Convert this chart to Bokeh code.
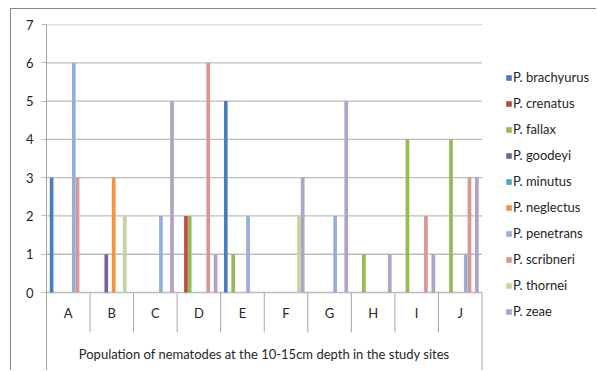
from bokeh.plotting import figure
from bokeh.models import ColumnDataSource, FixedTicker, Legend, LegendItem, Range1d
from bokeh.transform import dodge
from bokeh.core.properties import value
from bokeh.embed import file_html
from bokeh.resources import INLINE

categories = ["A", "B", "C", "D", "E", "F", "G", "H", "I", "J"]
series_names = ["P. brachyurus", "P. crenatus", "P. fallax", "P. goodeyi", "P. minutus",
                "P. neglectus", "P. penetrans", "P. scribneri", "P. thornei", "P. zeae"]
brachyurus = [3, 0, 0, 0, 5, 0, 0, 0, 0, 0]
crenatus = [0, 0, 0, 2, 0, 0, 0, 0, 0, 0]
fallax = [0, 0, 0, 2, 1, 0, 0, 1, 4, 4]
goodeyi = [0, 1, 0, 0, 0, 0, 0, 0, 0, 0]
minutus = [0, 0, 0, 0, 0, 0, 0, 0, 0, 0]
neglectus = [0, 3, 0, 0, 0, 0, 0, 0, 0, 0]
penetrans = [6, 0, 2, 0, 2, 0, 2, 0, 0, 1]
scribneri = [3, 0, 0, 6, 0, 0, 0, 0, 2, 3]
thornei = [0, 2, 0, 0, 0, 2, 0, 0, 0, 0]
zeae = [0, 0, 5, 1, 0, 3, 5, 1, 1, 3]
yticks = [0, 1, 2, 3, 4, 5, 6, 7]
x_title = "Population of nematodes at the 10-15cm depth in the study sites"

colors = ["#4A7EBB", "#BE4B48", "#98B954", "#7D60A0", "#46AAC5",
          "#F69240", "#94AFDA", "#D99694", "#C3D69B", "#B3A2C7"]
series_values = [brachyurus, crenatus, fallax, goodeyi, minutus,
                 neglectus, penetrans, scribneri, thornei, zeae]

FONT = "Lato"
FS = "13px"
TEXT_COLOR = "#262626"
n = len(categories)

data = {"cat": categories, "xc": [i + 0.5 for i in range(n)]}
keys = []
for i, vals in enumerate(series_values):
    k = "s%d" % i
    keys.append(k)
    data[k] = vals
source = ColumnDataSource(data)

p = figure(x_range=Range1d(0, 12.652), y_range=Range1d(-2.063, 7), width=586, height=362,
           margin=(8, 0, 0, 10),
           output_backend="svg", toolbar_location=None, x_axis_location=None,
           min_border_left=35, min_border_right=0, min_border_top=15,
           min_border_bottom=0)
p.styles = {"border-left": "1px solid #868686", "border-top": "1px solid #868686"}
p.outline_line_color = None
p.xgrid.visible = False
p.ygrid.visible = False

ax = p.yaxis[0]
ax.ticker = FixedTicker(ticks=yticks)
ax.axis_line_color = "#A6A6A6"
ax.major_tick_line_color = "#BDBDBD"
ax.major_tick_in = 0
ax.major_tick_out = 5
ax.minor_tick_out = 0
ax.minor_tick_in = 0
ax.major_label_standoff = 8
ax.major_label_text_font = FONT
ax.major_label_text_font_size = FS
ax.major_label_text_color = TEXT_COLOR

# horizontal gridlines across the category area
grid_src = ColumnDataSource({"y": yticks})
p.segment(x0=0, x1=n, y0="y", y1="y", source=grid_src,
          line_color="#BDBDBD", line_width=1.3)

bar_w = 0.085
items = []
for i, k in enumerate(keys):
    off = (i - 4.5) * bar_w
    r = p.vbar(x=dodge("xc", off), top=k, width=bar_w, bottom=0,
               source=source, fill_color=colors[i], line_color=None)
    items.append(LegendItem(label=series_names[i], renderers=[r]))

# category table lines below the axis
sep_src = ColumnDataSource({"x": [i + 1 for i in range(n - 1)]})
p.segment(x0="x", x1="x", y0=0, y1=-1.045, source=sep_src,
          line_color="#A6A6A6", line_width=1)
p.segment(x0=n, x1=n, y0=0, y1=-2.063, line_color="#A6A6A6", line_width=1)

# category labels
p.text(x="xc", y=-0.548, text="cat", source=source, text_align="center",
       text_baseline="middle", text_font=value(FONT), text_font_size=FS,
       text_color=TEXT_COLOR)
# axis title
p.text(x=[n / 2], y=[-1.593], text=[x_title],
       text_align="center", text_baseline="middle", text_font=value(FONT),
       text_font_size=FS, text_color=TEXT_COLOR)

legend = Legend(items=items, location=(459, 52), orientation="vertical",
                glyph_width=7, glyph_height=7, label_height=16, spacing=10,
                label_standoff=1, padding=0, margin=0,
                label_text_font=FONT, label_text_font_size=FS,
                label_text_color=TEXT_COLOR, border_line_color=None,
                background_fill_alpha=0)
p.add_layout(legend)

open("out.html", "w").write(file_html(p, INLINE))
